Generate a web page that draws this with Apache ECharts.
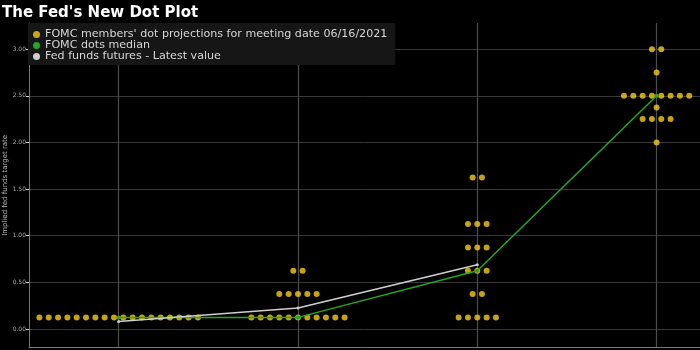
<!DOCTYPE html>
<html><head><meta charset="utf-8">
<script src="https://cdn.jsdelivr.net/npm/echarts@6/dist/echarts.min.js"></script>
<style>html,body{margin:0;padding:0;background:#000}#c{width:700px;height:350px}</style>
</head><body><div id="c"></div>
<script>
const titleText = "The Fed's New Dot Plot";
const groups = ['2021', '2022', '2023', 'Longer run'];
const seriesNames = [
  "FOMC members' dot projections for meeting date 06/16/2021",
  'FOMC dots median',
  'Fed funds futures - Latest value'
];
// rates shown in each group and number of participant dots at each rate
const dotRates = [
  [0.125],
  [0.125, 0.375, 0.625],
  [0.125, 0.375, 0.625, 0.875, 1.125, 1.625],
  [2.0, 2.25, 2.375, 2.5, 2.75, 3.0]
];
const dotCounts = [
  [18],
  [11, 5, 2],
  [5, 2, 3, 3, 3, 2],
  [1, 4, 1, 8, 1, 2]
];
const medianValues = [0.125, 0.125, 0.625, 2.5];
const futuresValues = [0.08, 0.225, 0.69];
const yTicks = [0, 0.5, 1, 1.5, 2, 2.5, 3];
const yAxisName = 'Implied fed funds target rate';

const DOT_STEP = 0.052; // horizontal spread of dots within a group (axis units)
const dots = [];
dotRates.forEach((rates, g) => {
  rates.forEach((r, k) => {
    const n = dotCounts[g][k];
    for (let j = 0; j < n; j++) dots.push([g + (j - (n - 1) / 2) * DOT_STEP, r]);
  });
});

const chart = echarts.init(document.getElementById('c'));
chart.setOption({
  backgroundColor: '#000',
  animation: false,
  title: {
    text: titleText, left: 2, top: 1, padding: [5, 0, 5, 0],
    textStyle: { color: '#fff', fontSize: 15, fontWeight: 'bold', fontFamily: 'DejaVu Sans' }
  },
  legend: {
    orient: 'vertical', left: 28, top: 23,
    backgroundColor: '#161616',
    padding: [6, 8, 3, 5],
    itemGap: 0, itemWidth: 7, itemHeight: 13.5,
    icon: 'circle',
    textStyle: { color: '#d6d6d6', fontSize: 11.1, fontFamily: 'DejaVu Sans' },
    data: seriesNames
  },
  grid: { left: 29, right: 0, top: 23, bottom: 2.3, containLabel: false, outerBoundsMode: 'none' },
  xAxis: {
    type: 'value', min: -0.5, max: 3.242, minInterval: 1, maxInterval: 1,
    axisLabel: { show: false }, axisTick: { show: false },
    axisLine: { show: true, onZero: false, lineStyle: { color: '#777', width: 1 } },
    splitLine: { show: true, showMinLine: false, showMaxLine: false, lineStyle: { color: '#4c4c4c', width: 1.2 } }
  },
  yAxis: {
    type: 'value', min: -0.2, max: 3.28, minInterval: 0.5, maxInterval: 0.5,
    name: yAxisName, nameLocation: 'middle', nameGap: 20, nameMoveOverlap: false,
    nameTextStyle: { color: '#bbb', fontSize: 7, fontFamily: 'DejaVu Sans' },
    axisLine: { show: true, onZero: false, lineStyle: { color: '#777' } },
    axisTick: { show: true, length: 3, customValues: yTicks, lineStyle: { color: '#ddd' } },
    axisLabel: {
      customValues: yTicks,
      color: '#aaa', fontSize: 6, margin: 3, fontFamily: 'DejaVu Sans',
      formatter: v => v.toFixed(2)
    },
    splitLine: { show: true, lineStyle: { color: '#383838' } }
  },
  series: [
    {
      name: seriesNames[0], type: 'scatter', data: dots, symbolSize: 6,
      itemStyle: { color: '#f7cc16' }, z: 2
    },
    {
      name: seriesNames[1], type: 'line', data: medianValues.map((v, i) => [i, v]),
      symbol: 'circle', symbolSize: 4, showSymbol: true,
      itemStyle: { color: '#22a822' }, lineStyle: { color: '#22a822', width: 1.5 }, z: 3
    },
    {
      name: seriesNames[2], type: 'line', data: futuresValues.map((v, i) => [i, v]),
      symbol: 'circle', symbolSize: 3, showSymbol: true,
      itemStyle: { color: '#cfcfcf' }, lineStyle: { color: '#cfcfcf', width: 1.5 }, z: 4
    }
  ]
});
</script>
</body></html>
